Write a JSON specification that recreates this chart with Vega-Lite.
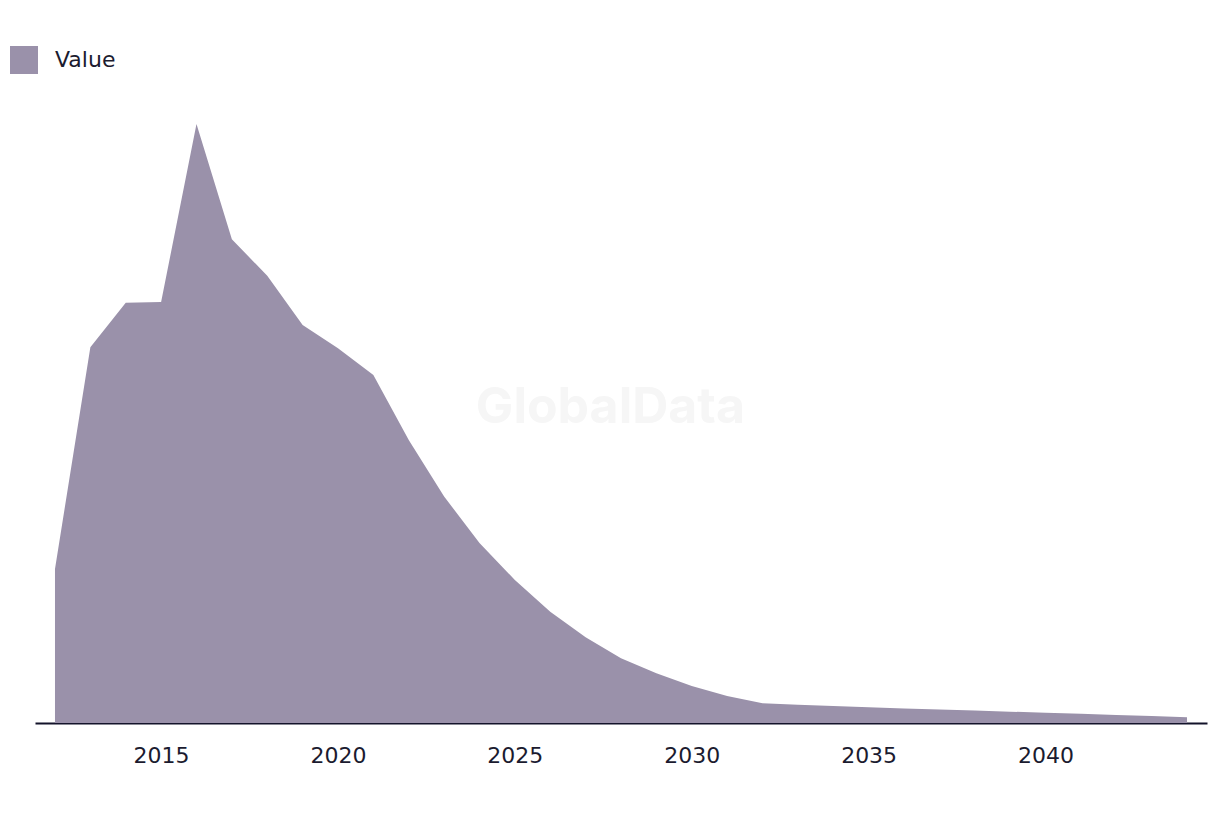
{
  "$schema": "https://vega.github.io/schema/vega-lite/v6.json",
  "width": 1172,
  "height": 623,
  "autosize": {"type": "none"},
  "padding": {"left": 35, "top": 100, "right": 13, "bottom": 91},
  "background": "white",
  "config": {
    "view": {"stroke": null},
    "font": "DejaVu Sans"
  },
  "layer": [
    {
      "data": {"values": [
        {"year": 2012, "value": 154, "series": "Value"},
        {"year": 2013, "value": 375.7, "series": "Value"},
        {"year": 2014, "value": 420.3, "series": "Value"},
        {"year": 2015, "value": 421, "series": "Value"},
        {"year": 2016, "value": 599, "series": "Value"},
        {"year": 2017, "value": 483.7, "series": "Value"},
        {"year": 2018, "value": 447.3, "series": "Value"},
        {"year": 2019, "value": 398, "series": "Value"},
        {"year": 2020, "value": 374.7, "series": "Value"},
        {"year": 2021, "value": 348, "series": "Value"},
        {"year": 2022, "value": 283, "series": "Value"},
        {"year": 2023, "value": 226.5, "series": "Value"},
        {"year": 2024, "value": 180, "series": "Value"},
        {"year": 2025, "value": 143, "series": "Value"},
        {"year": 2026, "value": 111.3, "series": "Value"},
        {"year": 2027, "value": 85.7, "series": "Value"},
        {"year": 2028, "value": 64.7, "series": "Value"},
        {"year": 2029, "value": 49.7, "series": "Value"},
        {"year": 2030, "value": 37, "series": "Value"},
        {"year": 2031, "value": 27, "series": "Value"},
        {"year": 2032, "value": 19.7, "series": "Value"},
        {"year": 2033, "value": 18.3, "series": "Value"},
        {"year": 2034, "value": 17, "series": "Value"},
        {"year": 2035, "value": 15.8, "series": "Value"},
        {"year": 2036, "value": 14.6, "series": "Value"},
        {"year": 2037, "value": 13.5, "series": "Value"},
        {"year": 2038, "value": 12.4, "series": "Value"},
        {"year": 2039, "value": 11.3, "series": "Value"},
        {"year": 2040, "value": 10.3, "series": "Value"},
        {"year": 2041, "value": 9.2, "series": "Value"},
        {"year": 2042, "value": 8.1, "series": "Value"},
        {"year": 2043, "value": 7, "series": "Value"},
        {"year": 2044, "value": 5.8, "series": "Value"}
      ]},
      "mark": {"type": "area", "opacity": 1},
      "encoding": {
        "x": {
          "field": "year", "type": "quantitative",
          "scale": {"domain": [2011.435, 2044.565], "nice": false, "zero": false},
          "axis": {
            "title": null,
            "values": [2015, 2020, 2025, 2030, 2035, 2040],
            "format": "d",
            "grid": false,
            "ticks": false,
            "labelPadding": 22,
            "labelFontSize": 22,
            "labelColor": "#1b1b2f",
            "labelFont": "DejaVu Sans",
            "domainColor": "#13132a",
            "domainWidth": 2
          }
        },
        "y": {
          "field": "value", "type": "quantitative",
          "scale": {"domain": [0, 623], "nice": false},
          "axis": null
        },
        "color": {
          "field": "series", "type": "nominal",
          "scale": {"domain": ["Value"], "range": ["#9a91aa"]},
          "legend": {
            "title": null,
            "orient": "none",
            "legendX": -25,
            "legendY": -54,
            "symbolType": "square",
            "symbolSize": 784,
            "symbolStrokeWidth": 0,
            "symbolOpacity": 1,
            "labelFontSize": 22,
            "labelColor": "#1b1b2f",
            "labelFont": "DejaVu Sans",
            "labelOffset": 17
          }
        }
      }
    },
    {
      "data": {"values": [{"label": "GlobalData", "year": 2027.7, "value": 315}]},
      "mark": {"type": "text", "fontSize": 50, "fontWeight": "bold", "fill": "#f6f6f6", "align": "center", "baseline": "middle", "font": "Inter"},
      "encoding": {
        "x": {"field": "year", "type": "quantitative"},
        "y": {"field": "value", "type": "quantitative"},
        "text": {"field": "label", "type": "nominal"}
      }
    }
  ]
}
